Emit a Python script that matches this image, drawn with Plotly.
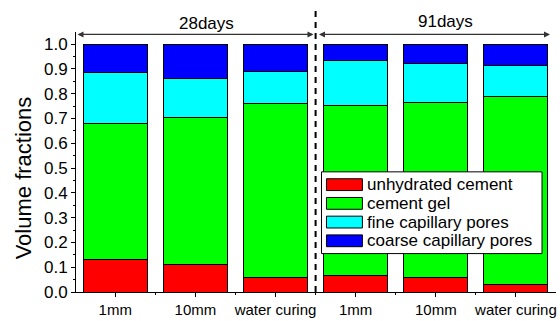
import plotly.graph_objects as go

categories = ["1mm", "10mm", "water curing", "1mm", "10mm", "water curing"]
series_names = ["unhydrated cement", "cement gel", "fine capillary pores", "coarse capillary pores"]
unhydrated = [0.132, 0.110, 0.057, 0.067, 0.057, 0.032]
gel = [0.549, 0.596, 0.704, 0.686, 0.708, 0.757]
fine = [0.204, 0.155, 0.127, 0.182, 0.157, 0.125]
coarse = [0.115, 0.139, 0.112, 0.065, 0.078, 0.086]
colors = ["#FF0000", "#00FF00", "#00FFFF", "#0000FF"]
group_labels = ["28days", "91days"]
y_title = "Volume fractions"

W, H = 560, 321
ML, MR, MT, MB = 76, 3, 32, 25
PW, PH = W - ML - MR, H - MT - MB

def px(x):
    return (x - ML) / PW

def py(y):
    return (H - MB - y) / PH

xs = list(range(len(categories)))
fig = go.Figure()
for name, vals, col in zip(series_names, [unhydrated, gel, fine, coarse], colors):
    fig.add_trace(go.Bar(x=xs, y=vals, name=name, width=0.8,
                         marker=dict(color=col, line=dict(color="black", width=1)),
                         showlegend=False))

shapes = []
annotations = []
# dashed separator
shapes.append(dict(type="line", xref="x", yref="paper", x0=2.5, x1=2.5, y0=0, y1=py(9),
                   line=dict(color="black", width=2, dash="6px,5px")))
# group labels
annotations.append(dict(text=group_labels[0], xref="paper", yref="paper", x=px(207), y=py(23),
                        xanchor="center", yanchor="middle", showarrow=False,
                        font=dict(family="Liberation Sans, Arial", size=17, color="black")))
annotations.append(dict(text=group_labels[1], xref="paper", yref="paper", x=px(446), y=py(21),
                        xanchor="center", yanchor="middle", showarrow=False,
                        font=dict(family="Liberation Sans, Arial", size=17, color="black")))
# arrows
ya = py(34.5)
for xa, xb in [(px(76), px(314)), (px(318), px(551))]:
    annotations.append(dict(xref="x domain", yref="y domain", axref="x domain", ayref="y domain",
                            x=xb, y=ya, ax=xa, ay=ya, text="", showarrow=True,
                            arrowhead=2, arrowside="end+start", arrowsize=1, arrowwidth=1.2,
                            arrowcolor="#333"))
# y title
annotations.append(dict(text=y_title, xref="paper", yref="paper", x=px(23), y=py(180.5),
                        xanchor="center", yanchor="middle", textangle=-90, showarrow=False,
                        font=dict(family="Liberation Sans, Arial", size=22, color="black")))
# custom legend
shapes.append(dict(type="rect", xref="paper", yref="paper", x0=px(322), x1=px(543),
                   y0=py(257), y1=py(174), line=dict(color="black", width=1), fillcolor="white"))
for i, (name, col) in enumerate(zip(series_names, colors)):
    cy = 187 + i * 19
    shapes.append(dict(type="rect", xref="paper", yref="paper", x0=px(327), x1=px(363),
                       y0=py(cy + 6), y1=py(cy - 6), line=dict(color="black", width=1), fillcolor=col))
    annotations.append(dict(text=name, xref="paper", yref="paper", x=px(366), y=py(cy),
                            xanchor="left", yanchor="middle", showarrow=False,
                            font=dict(family="Liberation Sans, Arial", size=17, color="black")))

fig.update_layout(
    width=W, height=H, margin=dict(l=ML, r=MR, t=MT, b=MB, pad=0),
    barmode="stack", bargap=0.2, plot_bgcolor="white", paper_bgcolor="white",
    shapes=shapes, annotations=annotations,
    xaxis=dict(range=[-0.49, 5.5], tickvals=xs, ticktext=categories,
               showline=True, linecolor="black", linewidth=1, ticks="outside", ticklen=4,
               tickcolor="black", showgrid=False, zeroline=False,
               tickfont=dict(family="Liberation Sans, Arial", size=15, color="black"),
               minor=dict(tickvals=[0.5, 1.5, 2.5, 3.5, 4.5], ticks="outside", ticklen=2, tickcolor="black")),
    yaxis=dict(range=[0, 1.049], tickvals=[i / 10 for i in range(11)],
               ticktext=[f"{i/10:.1f}" for i in range(11)],
               showline=True, linecolor="black", linewidth=1, ticks="outside", ticklen=4,
               tickcolor="black", showgrid=False, zeroline=False,
               tickfont=dict(family="Liberation Sans, Arial", size=17, color="black"),
               minor=dict(dtick=0.05, ticks="outside", ticklen=2, tickcolor="black")),
)
fig.write_html("out.html")
